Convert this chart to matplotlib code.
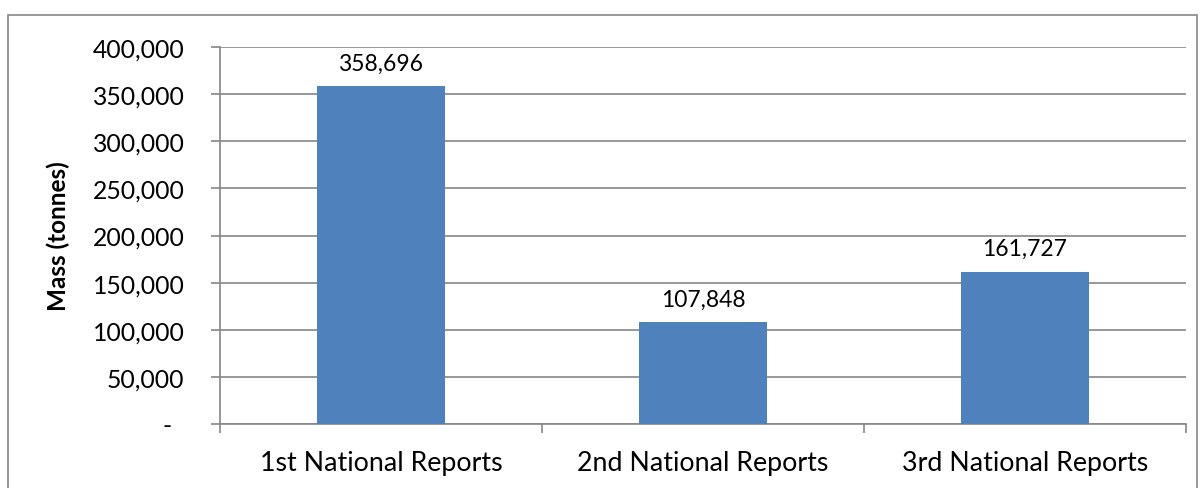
import numpy as np
import matplotlib.pyplot as plt
from matplotlib.patches import Rectangle
from matplotlib.ticker import FuncFormatter

categories = ['1st National Reports', '2nd National Reports', '3rd National Reports']
mass = [358696, 107848, 161727]

plt.rcParams['font.family'] = ['Lato', 'DejaVu Sans']

W, H = 1204, 489
fig = plt.figure(figsize=(W / 100, H / 100), dpi=100)
# outer chart border (bottom runs off the image)
fig.patches.append(Rectangle((8 / W, -0.05), (1197 - 8) / W, 1.05 - 16 / H,
                             transform=fig.transFigure, fill=False,
                             edgecolor='#868686', linewidth=1.2))

left, right, top, bottom = 220, 1186, 48, 425
ax = fig.add_axes([left / W, 1 - bottom / H, (right - left) / W, (bottom - top) / H])

x = np.arange(len(categories))
ax.bar(x, mass, width=0.4, color='#4F81BD', zorder=3)
for xi, v in zip(x, mass):
    ax.annotate('{:,}'.format(v), (xi, v), xytext=(0, 9), textcoords='offset points',
                ha='center', va='bottom', fontsize=16.5)

ax.set_xlim(-0.5, 2.5)
ax.set_ylim(0, 400000)
ax.set_yticks(np.arange(0, 400001, 50000))
# Excel accounting style: zero shown as a dash, set in a bit from the right
ax.yaxis.set_major_formatter(FuncFormatter(lambda v, p: '-\u2002' if v == 0 else '{:,.0f}'.format(v)))
ax.set_xticks([-0.5, 0.5, 1.5, 2.5], minor=False)
ax.set_xticklabels([])
ax.set_xticks(x, minor=True)
ax.set_xticklabels(categories, minor=True, fontsize=19.3)
ax.tick_params(axis='x', which='minor', length=0, pad=19)
ax.tick_params(axis='x', which='major', length=6.5, color='#868686', width=1.2)
ax.tick_params(axis='y', length=6.5, color='#868686', width=1.2, labelsize=17.8, pad=19)

ax.grid(axis='y', color='#868686', linewidth=1.2, zorder=0)
for s in ['top', 'right']:
    ax.spines[s].set_visible(False)
for s in ['left', 'bottom']:
    ax.spines[s].set_color('#868686')
    ax.spines[s].set_linewidth(1.2)

ax.set_ylabel('Mass (tonnes)', fontsize=17.5, fontweight='bold')
ax.yaxis.set_label_coords(-0.1553, 0.5)

plt.savefig('out.png', dpi=100)
